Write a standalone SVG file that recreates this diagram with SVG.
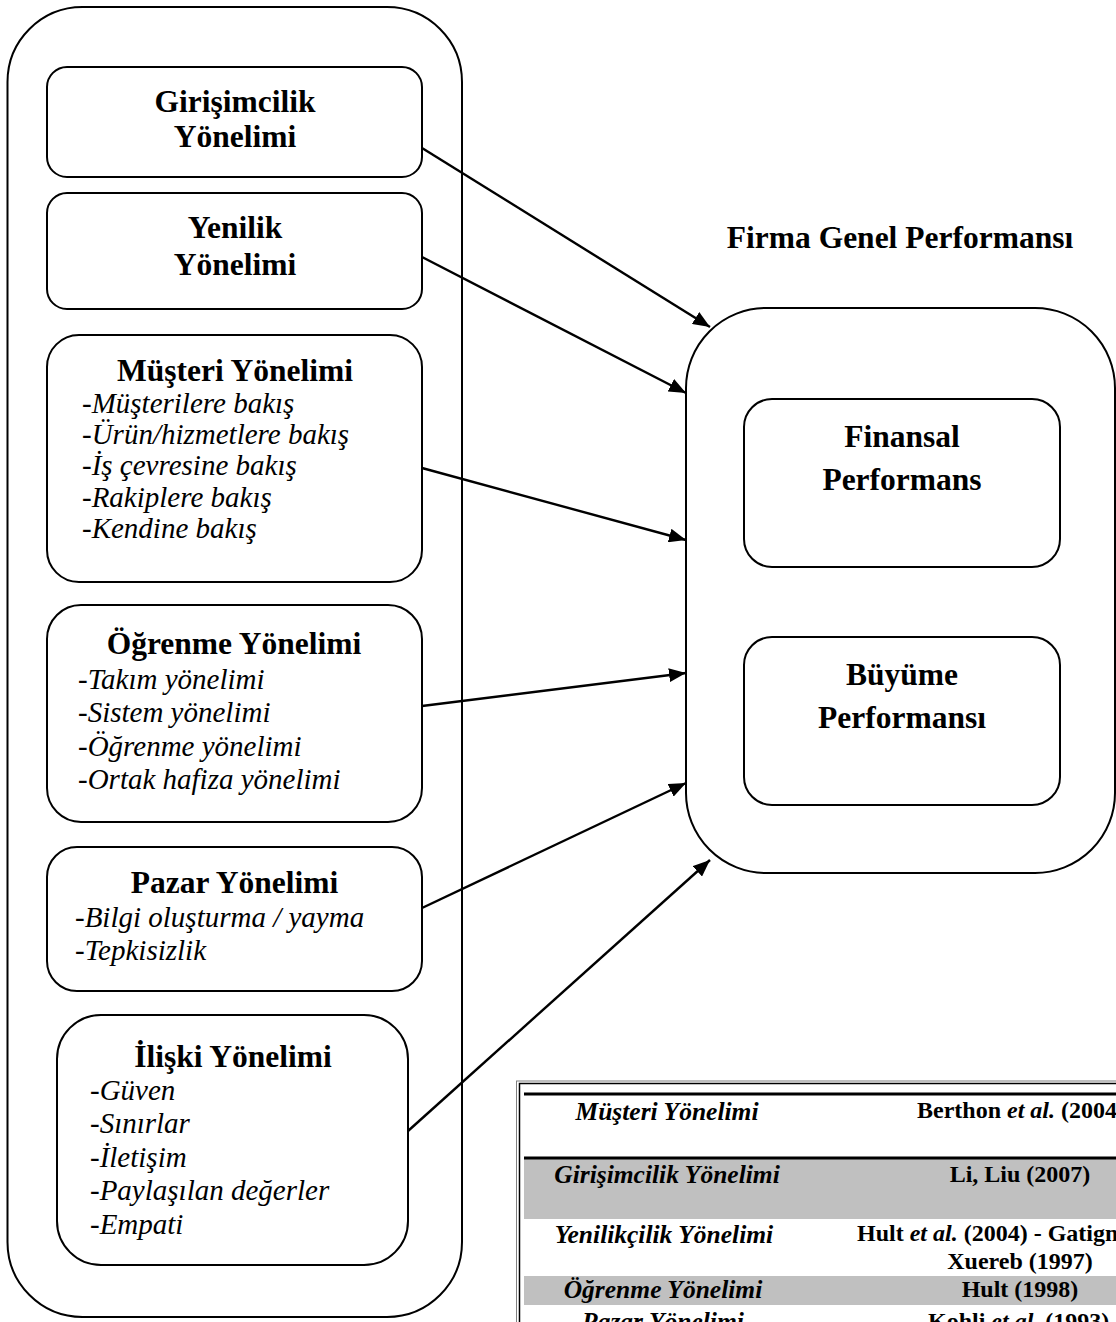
<svg xmlns="http://www.w3.org/2000/svg" width="1116" height="1322" viewBox="0 0 1116 1322">
  <style>
    .box { fill: #ffffff; stroke: #000000; stroke-width: 2; }
    .wire { fill: none; stroke: #000000; stroke-width: 2.4; }
    .hd { font-family: "Liberation Serif", "Times New Roman", serif; font-weight: bold; font-size: 31.5px; fill: #000000; text-anchor: middle; }
    .it { font-family: "Liberation Serif", "Times New Roman", serif; font-style: italic; font-size: 29px; fill: #000000; }
    .tl { font-family: "Liberation Serif", "Times New Roman", serif; font-weight: bold; font-style: italic; font-size: 25.5px; fill: #000000; text-anchor: middle; }
    .tr { font-family: "Liberation Serif", "Times New Roman", serif; font-weight: bold; font-size: 24px; fill: #000000; }
    .em { font-style: italic; }
    .shade { fill: #c0c0c0; }
    .rule { fill: #000000; }
  </style>
  <defs>
    <marker id="arrow" markerUnits="userSpaceOnUse" markerWidth="18" markerHeight="14" refX="17" refY="7" orient="auto">
      <path d="M0,0 L17,7 L0,14 z" fill="#000000"/>
    </marker>
  </defs>

  <rect width="1116" height="1322" fill="#ffffff"/>

  <!-- container of the orientation boxes -->
  <g id="orientations">
    <rect class="box" x="7.5" y="7" width="454.5" height="1310" rx="75" ry="75"/>
  </g>

  <g id="node-girisimcilik">
    <rect class="box" x="47" y="67" width="375" height="110" rx="20" ry="20"/>
    <text class="hd" x="235" y="112">Girişimcilik</text>
    <text class="hd" x="235" y="147">Yönelimi</text>
  </g>

  <g id="node-yenilik">
    <rect class="box" x="47" y="193" width="375" height="116" rx="20" ry="20"/>
    <text class="hd" x="235" y="238">Yenilik</text>
    <text class="hd" x="235" y="275">Yönelimi</text>
  </g>

  <g id="node-musteri">
    <rect class="box" x="47" y="335" width="375" height="247" rx="32" ry="32"/>
    <text class="hd" x="235" y="381">Müşteri Yönelimi</text>
    <text class="it" x="82" y="413">-Müşterilere bakış</text>
    <text class="it" x="82" y="444">-Ürün/hizmetlere bakış</text>
    <text class="it" x="82" y="475">-İş çevresine bakış</text>
    <text class="it" x="82" y="507">-Rakiplere bakış</text>
    <text class="it" x="82" y="538">-Kendine bakış</text>
  </g>

  <g id="node-ogrenme">
    <rect class="box" x="47" y="605" width="375" height="217" rx="34" ry="34"/>
    <text class="hd" x="234" y="654">Öğrenme Yönelimi</text>
    <text class="it" x="78" y="689">-Takım yönelimi</text>
    <text class="it" x="78" y="722">-Sistem yönelimi</text>
    <text class="it" x="78" y="756">-Öğrenme yönelimi</text>
    <text class="it" x="78" y="789">-Ortak hafiza yönelimi</text>
  </g>

  <g id="node-pazar">
    <rect class="box" x="47" y="847" width="375" height="144" rx="30" ry="30"/>
    <text class="hd" x="234.5" y="893">Pazar Yönelimi</text>
    <text class="it" x="75" y="927">-Bilgi oluşturma / yayma</text>
    <text class="it" x="75" y="960">-Tepkisizlik</text>
  </g>

  <g id="node-iliski">
    <rect class="box" x="57" y="1015" width="351" height="250" rx="44" ry="44"/>
    <text class="hd" x="233" y="1067">İlişki Yönelimi</text>
    <text class="it" x="90" y="1100">-Güven</text>
    <text class="it" x="90" y="1133">-Sınırlar</text>
    <text class="it" x="90" y="1167">-İletişim</text>
    <text class="it" x="90" y="1200">-Paylaşılan değerler</text>
    <text class="it" x="90" y="1234">-Empati</text>
  </g>

  <!-- overall firm performance -->
  <g id="node-performans">
    <text class="hd" x="900" y="248">Firma Genel Performansı</text>
    <rect class="box" x="686" y="308" width="429" height="565" rx="80" ry="80"/>
  </g>

  <g id="node-finansal">
    <rect class="box" x="744" y="399" width="316" height="168" rx="28" ry="28"/>
    <text class="hd" x="902" y="447">Finansal</text>
    <text class="hd" x="902" y="490">Performans</text>
  </g>

  <g id="node-buyume">
    <rect class="box" x="744" y="637" width="316" height="168" rx="28" ry="28"/>
    <text class="hd" x="902" y="685">Büyüme</text>
    <text class="hd" x="902" y="728">Performansı</text>
  </g>

  <!-- arrows from each orientation to firm performance -->
  <g id="connectors">
    <line class="wire" x1="422" y1="148" x2="710" y2="327" marker-end="url(#arrow)"/>
    <line class="wire" x1="422" y1="257" x2="686" y2="393" marker-end="url(#arrow)"/>
    <line class="wire" x1="422" y1="468" x2="686" y2="540" marker-end="url(#arrow)"/>
    <line class="wire" x1="422" y1="706" x2="686" y2="673" marker-end="url(#arrow)"/>
    <line class="wire" x1="422" y1="908" x2="686" y2="783" marker-end="url(#arrow)"/>
    <line class="wire" x1="408" y1="1131" x2="710" y2="860" marker-end="url(#arrow)"/>
  </g>

  <!-- reference table -->
  <g id="table">
    <rect x="516.5" y="1081" width="700" height="300" fill="#ffffff" stroke="#7f7f7f" stroke-width="1"/>
    <rect x="519.5" y="1083.5" width="700" height="300" fill="none" stroke="#000000" stroke-width="1.5"/>
    <rect class="shade" x="524" y="1159" width="592" height="60"/>
    <rect class="shade" x="524" y="1276" width="592" height="29"/>
    <rect class="rule" x="524" y="1092.5" width="592" height="3"/>
    <rect class="rule" x="524" y="1156.5" width="592" height="3"/>

    <text class="tl" x="667" y="1120">Müşteri Yönelimi</text>
    <text class="tr" x="917" y="1118">Berthon <tspan class="em">et al.</tspan> (2004</text>

    <text class="tl" x="667" y="1183">Girişimcilik Yönelimi</text>
    <text class="tr" x="1020" y="1182" text-anchor="middle">Li, Liu (2007)</text>

    <text class="tl" x="664" y="1243">Yenilikçilik Yönelimi</text>
    <text class="tr" x="857" y="1241">Hult <tspan class="em">et al.</tspan> (2004) - Gatign</text>
    <text class="tr" x="1020" y="1269" text-anchor="middle">Xuereb (1997)</text>

    <text class="tl" x="663" y="1298">Öğrenme Yönelimi</text>
    <text class="tr" x="1020" y="1297" text-anchor="middle">Hult (1998)</text>

    <text class="tl" x="663" y="1330">Pazar Yönelimi</text>
    <text class="tr" x="928" y="1329">Kohli <tspan class="em">et al.</tspan> (1993)</text>
  </g>
</svg>
